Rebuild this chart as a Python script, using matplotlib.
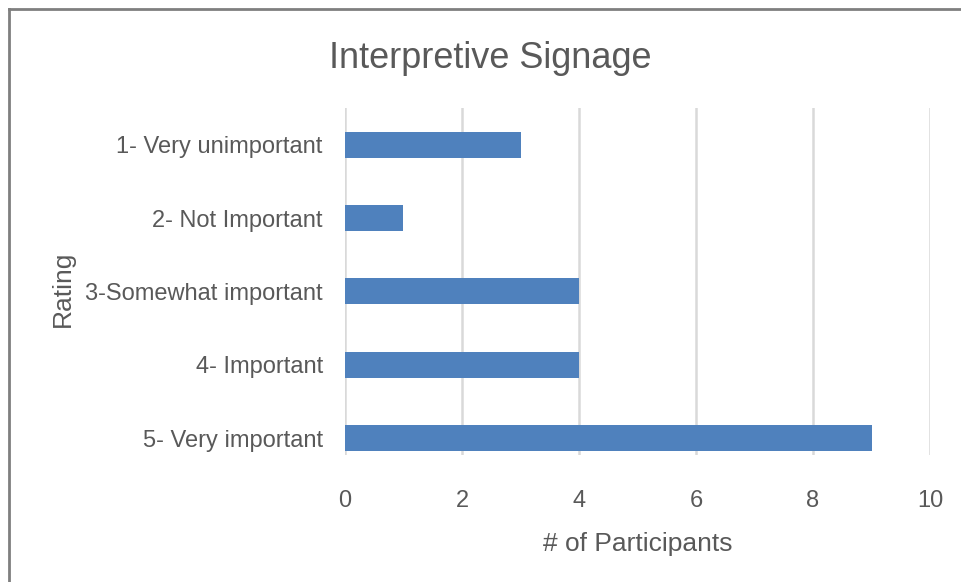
import matplotlib.pyplot as plt
from matplotlib.lines import Line2D

ratings = ['1- Very unimportant', '2- Not Important', '3-Somewhat important',
           '4- Important', '5- Very important']
participants = [3, 1, 4, 4, 9]

plt.rcParams['font.family'] = ['Liberation Sans', 'DejaVu Sans']
text_color = '#595959'

fig = plt.figure(figsize=(9.62, 5.82), dpi=100)
ax = fig.add_axes([345 / 962, 1 - 455 / 582, 585 / 962, 347 / 582])

ypos = list(range(len(ratings)))
ax.barh(ypos, participants, height=0.355, color='#4f81bd', zorder=3)
ax.set_ylim(4.23, -0.5)
ax.set_xlim(0, 10)
ax.set_xticks(range(0, 11, 2))
ax.set_yticks(ypos)
ax.set_yticklabels(ratings)

ax.grid(axis='x', color='#d9d9d9', linewidth=1.8, zorder=0)
for s in ax.spines.values():
    s.set_visible(False)
ax.tick_params(length=0, labelsize=17, colors=text_color)
ax.tick_params(axis='x', pad=25)
ax.tick_params(axis='y', pad=16)

ax.set_xlabel('# of Participants', fontsize=19, color=text_color)
ax.xaxis.set_label_coords(0.5, -0.222)
ax.set_ylabel('Rating', fontsize=19, color=text_color)
ax.yaxis.set_label_coords(-0.462, 0.478)
fig.text(490 / 962, 1 - 58 / 582, 'Interpretive Signage', fontsize=26,
         color=text_color, ha='center', va='center')

# frame on the left and top edges only
fig.add_artist(Line2D([8.5 / 962, 8.5 / 962], [0, 1 - 9 / 582],
                      transform=fig.transFigure, color='#7f7f7f', linewidth=2))
fig.add_artist(Line2D([8.5 / 962, 1], [1 - 9 / 582, 1 - 9 / 582],
                      transform=fig.transFigure, color='#7f7f7f', linewidth=2))

fig.savefig('out.png', dpi=100)
